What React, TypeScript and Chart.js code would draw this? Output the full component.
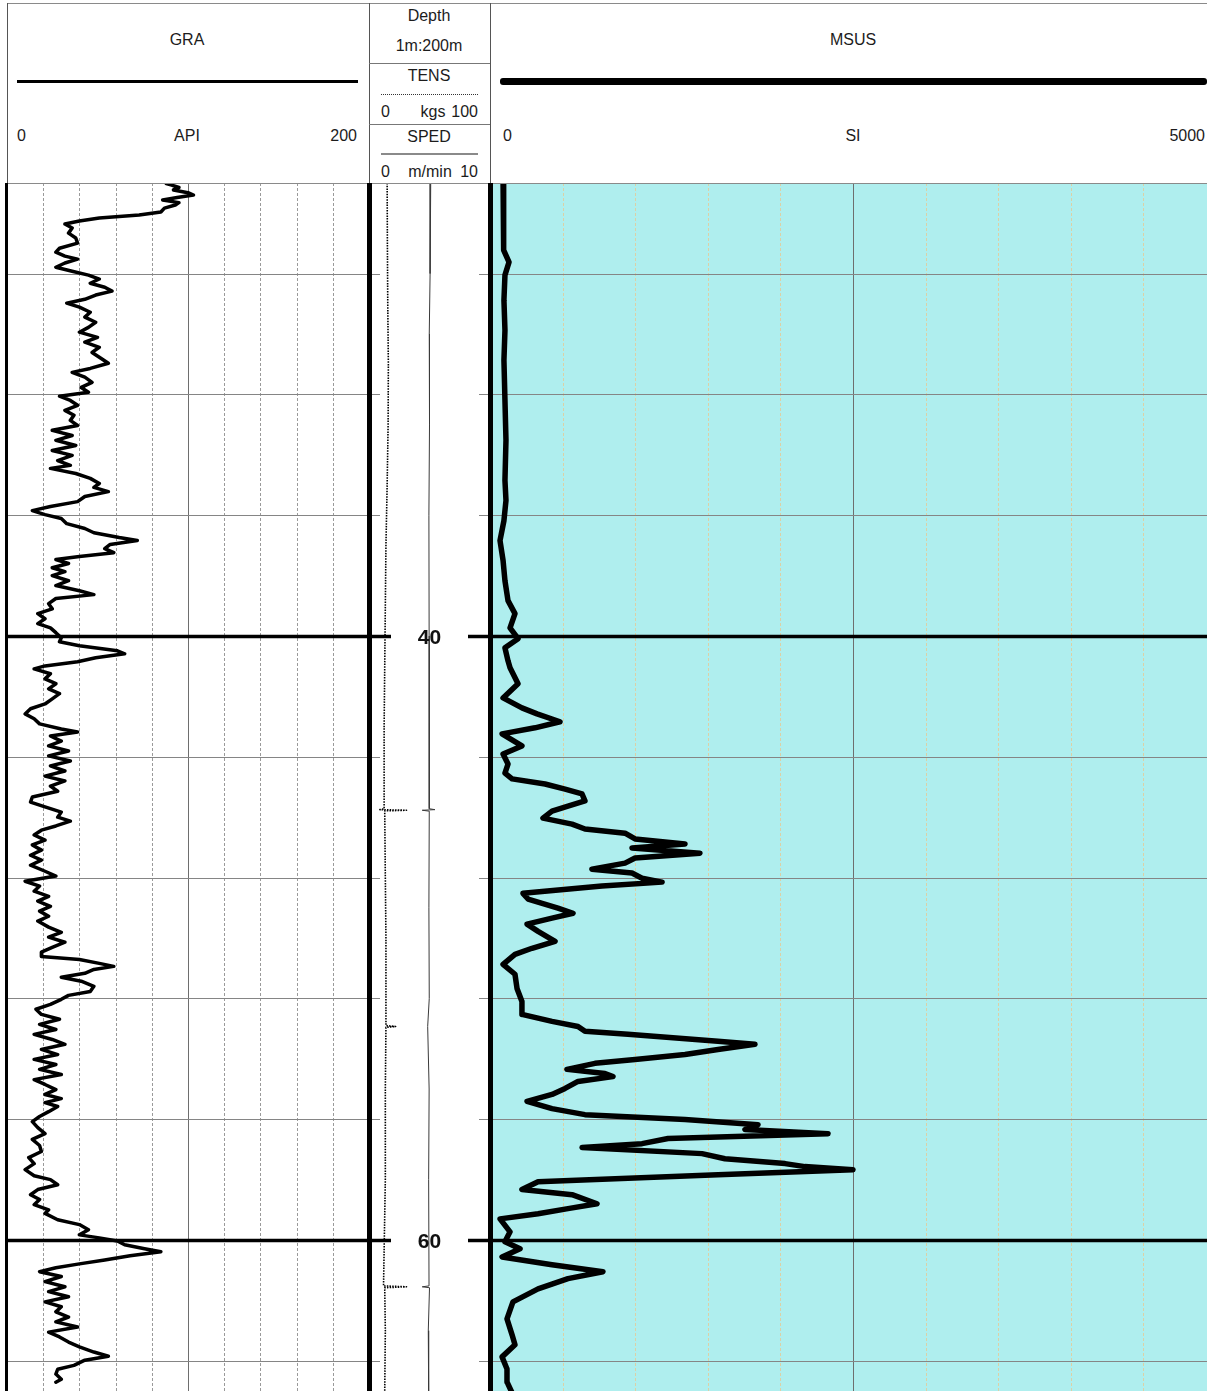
import React, { useEffect, useRef } from "react";
import { Chart, registerables } from "chart.js";

Chart.register(...registerables);

// ---------- data ----------
const DEPTH_MIN = 25;
const DEPTH_MAX = 65;
const gridDepths = [28, 32, 36, 40, 44, 48, 52, 56, 60, 64];
const majorDepths = [40, 60];
const depthLabels = ["40", "60"];
const graGrid = [20, 40, 60, 80, 100, 120, 140, 160, 180];
const msusGrid = [500, 1000, 1500, 2000, 2500, 3000, 3500, 4000, 4500];

// [depth m, GRA API]
const graReadings: [number, number][] = [
  [25.02, 88], [25.07, 91], [25.15, 95], [25.23, 92], [25.32, 100], [25.4, 103], [25.48, 94], [25.56, 86], [25.65, 95], [25.73, 93], [25.83, 87], [25.96, 85], [26.06, 73],
  [26.16, 51], [26.26, 40], [26.36, 32], [26.49, 36], [26.66, 34], [26.82, 38], [26.99, 39], [27.16, 29],
  [27.29, 27], [27.42, 32], [27.52, 39], [27.65, 32], [27.79, 27], [27.92, 36], [28.05, 45], [28.18, 51],
  [28.32, 46], [28.45, 54], [28.58, 58], [28.71, 49], [28.85, 43], [28.98, 33], [29.11, 40], [29.28, 46],
  [29.44, 43], [29.61, 49], [29.78, 45], [29.94, 40], [30.11, 50], [30.27, 43], [30.44, 51], [30.61, 47],
  [30.77, 51], [30.97, 56], [31.14, 46], [31.27, 36], [31.43, 43], [31.6, 47], [31.77, 41], [31.93, 45],
  [32.06, 29], [32.2, 35], [32.36, 39], [32.53, 32], [32.69, 37], [32.86, 35], [33.03, 39], [33.19, 25],
  [33.36, 36], [33.52, 27], [33.69, 38], [33.86, 25], [34.02, 36], [34.19, 28], [34.35, 35], [34.45, 24],
  [34.62, 38], [34.78, 46], [34.95, 51], [35.08, 48], [35.22, 56], [35.38, 43], [35.55, 39], [35.71, 24],
  [35.85, 14], [35.98, 21], [36.11, 30], [36.28, 33], [36.44, 43], [36.58, 48], [36.74, 62], [36.84, 72],
  [36.97, 57], [37.11, 54], [37.24, 59], [37.37, 40], [37.47, 27], [37.6, 34], [37.74, 25], [37.87, 32],
  [38.0, 25], [38.17, 34], [38.33, 27], [38.5, 40], [38.63, 48], [38.76, 27], [38.93, 23], [39.1, 25],
  [39.26, 17], [39.43, 21], [39.59, 17], [39.73, 24], [39.89, 27], [40.06, 30], [40.19, 29], [40.32, 40],
  [40.49, 61], [40.59, 65], [40.72, 49], [40.85, 39], [40.99, 21], [41.09, 15], [41.25, 24], [41.42, 21],
  [41.58, 27], [41.75, 23], [41.91, 29], [42.08, 25], [42.25, 21], [42.41, 13], [42.58, 10], [42.74, 15],
  [42.91, 18], [43.08, 30], [43.18, 39], [43.31, 24], [43.48, 30], [43.64, 23], [43.81, 34], [43.97, 23],
  [44.14, 35], [44.3, 24], [44.47, 32], [44.64, 21], [44.8, 32], [44.97, 24], [45.14, 28], [45.33, 14],
  [45.5, 13], [45.66, 21], [45.83, 30], [46.0, 28], [46.13, 35], [46.29, 27], [46.43, 19], [46.59, 15],
  [46.76, 21], [46.92, 14], [47.09, 19], [47.26, 13], [47.42, 19], [47.59, 13], [47.79, 21], [47.95, 27],
  [48.12, 10], [48.28, 18], [48.45, 15], [48.62, 23], [48.78, 17], [48.95, 24], [49.11, 18], [49.28, 23],
  [49.44, 17], [49.64, 23], [49.81, 30], [49.97, 23], [50.14, 32], [50.31, 25], [50.47, 19], [50.61, 19],
  [50.71, 40], [50.84, 51], [50.94, 59], [51.04, 48], [51.17, 43], [51.3, 30], [51.43, 41], [51.6, 48],
  [51.77, 46], [51.9, 34], [52.03, 30], [52.2, 24], [52.36, 16], [52.53, 19], [52.69, 29], [52.86, 18],
  [53.03, 27], [53.19, 15], [53.36, 25], [53.52, 32], [53.69, 19], [53.86, 28], [54.02, 15], [54.19, 27],
  [54.35, 18], [54.52, 30], [54.69, 15], [54.85, 21], [55.02, 27], [55.18, 21], [55.32, 30], [55.45, 21],
  [55.58, 28], [55.75, 23], [55.91, 18], [56.08, 14], [56.28, 17], [56.48, 21], [56.67, 14], [56.87, 18],
  [57.07, 19], [57.27, 12], [57.47, 15], [57.67, 10], [57.87, 15], [58.0, 24], [58.17, 28], [58.33, 17],
  [58.5, 13], [58.66, 18], [58.83, 15], [59.0, 23], [59.12, 21], [59.33, 28], [59.49, 40], [59.66, 45],
  [59.83, 40], [59.93, 51], [60.03, 61], [60.16, 65], [60.29, 76], [60.39, 85], [60.52, 68], [60.66, 54],
  [60.79, 40], [60.92, 27], [61.05, 18], [61.21, 30], [61.38, 21], [61.55, 32], [61.71, 23], [61.88, 34],
  [62.05, 21], [62.21, 30], [62.38, 27], [62.55, 34], [62.71, 27], [62.88, 39], [63.05, 23], [63.21, 29],
  [63.38, 34], [63.54, 40], [63.71, 48], [63.85, 56], [63.98, 43], [64.15, 37], [64.28, 28], [64.44, 27],
  [64.61, 30], [64.71, 27],
];

// [depth m, MSUS SI]
const msusReadings: [number, number][] = [
  [25.0, 90], [25.56, 96], [26.56, 90], [27.22, 96], [27.62, 131], [28.05, 103], [28.88, 96], [29.88, 103],
  [30.87, 96], [32.2, 103], [33.52, 110], [34.85, 103], [35.51, 110], [36.18, 96], [36.84, 69], [37.5, 90],
  [38.17, 103], [38.83, 124], [39.26, 172], [39.73, 138], [40.09, 193], [40.39, 103], [40.82, 124], [41.05, 138],
  [41.58, 193], [42.05, 90], [42.38, 220], [42.58, 324], [42.84, 482], [43.04, 310], [43.24, 83], [43.64, 220],
  [43.91, 90], [44.24, 124], [44.54, 103], [44.73, 152], [44.9, 379], [45.07, 517], [45.23, 634], [45.46, 654],
  [45.63, 537], [45.8, 427], [46.03, 365], [46.23, 565], [46.39, 654], [46.53, 930], [46.72, 999], [46.89, 1343],
  [47.02, 978], [47.19, 1446], [47.35, 999], [47.52, 930], [47.72, 702], [47.85, 978], [48.02, 1047], [48.15, 1185],
  [48.28, 771], [48.52, 227], [48.71, 262], [49.01, 468], [49.18, 572], [49.34, 427], [49.54, 255], [49.78, 331],
  [50.11, 448], [50.34, 289], [50.54, 172], [50.87, 90], [51.2, 172], [51.67, 186], [52.1, 220], [52.53, 220],
  [52.76, 427], [52.93, 606], [53.09, 654], [53.19, 950], [53.42, 1570], [53.52, 1825], [53.69, 1570], [53.86, 1343],
  [54.02, 999], [54.15, 723], [54.35, 530], [54.49, 792], [54.59, 847], [54.75, 606], [54.98, 517], [55.18, 427],
  [55.41, 255], [55.65, 427], [55.85, 654], [56.01, 1343], [56.18, 1846], [56.34, 1756], [56.48, 2328], [56.64, 1226],
  [56.81, 1047], [56.94, 634], [57.14, 1460], [57.31, 1618], [57.47, 2032], [57.57, 2169], [57.67, 2500], [57.84, 1570],
  [58.07, 331], [58.33, 220], [58.5, 565], [58.8, 737], [58.96, 537], [59.13, 331], [59.3, 69], [59.73, 138],
  [60.06, 103], [60.29, 207], [60.56, 83], [60.82, 427], [61.05, 778], [61.28, 537], [61.62, 331], [62.05, 158],
  [62.61, 117], [63.14, 152], [63.47, 172], [63.87, 83], [64.27, 117], [64.7, 117], [65.06, 152],
];

// [depth m, TENS kgs]
const tensReadings: [number, number][] = [
  [25, 15], [27, 15.2], [29, 15.5], [31, 16], [33, 15.8], [35, 15], [37, 14], [39, 13.5], [41, 13],
  [43, 12.5], [45.72, 12.5], [45.75, 9], [45.77, 31], [45.79, 13], [48, 13.5], [50, 14], [52.9, 14],
  [52.93, 22], [52.96, 14], [55, 13.5], [58, 13.5], [61.52, 12], [61.55, 31], [61.58, 13], [63, 13.5], [65, 13],
];

// [depth m, SPED m/min]
const spedReadings: [number, number][] = [
  [25, 5.1], [28, 5.05], [30, 4.98], [33, 5.0], [36, 4.95], [40, 4.97], [43, 5.0], [45.72, 4.96],
  [45.75, 5.45], [45.77, 4.4], [45.8, 4.98], [49, 4.95], [52, 4.98], [52.93, 4.85], [55, 4.97],
  [58, 4.93], [61.52, 4.96], [61.55, 4.4], [61.58, 5.0], [63, 4.9], [65, 4.93],
];

// ---------- layout ----------
const PLOT_TOP = 183;
const PLOT_H = 1208;
const FONT = '"Liberation Sans", Arial, sans-serif';

type GridOpts = {
  background?: string;
  vLines: number[];
  vMajor?: number;
  vMinorColor: string;
  depthTrack?: boolean;
};

function makeGridPlugin(o: GridOpts) {
  const line = (ctx: CanvasRenderingContext2D, x1: number, y1: number, x2: number, y2: number) => {
    ctx.beginPath();
    ctx.moveTo(x1, y1);
    ctx.lineTo(x2, y2);
    ctx.stroke();
  };
  return {
    id: "trackGrid",
    beforeDatasetsDraw(chart: any) {
      const { ctx, chartArea: a, scales } = chart;
      const x = scales.x;
      const y = scales.y;
      ctx.save();
      if (o.background) {
        ctx.fillStyle = o.background;
        ctx.fillRect(a.left, a.top, a.right - a.left, a.bottom - a.top);
      }
      for (const v of o.vLines) {
        const px = Math.round(x.getPixelForValue(v)) + 0.5;
        const major = v === o.vMajor;
        ctx.lineWidth = 1;
        ctx.strokeStyle = major ? "#6e6e6e" : o.vMinorColor;
        ctx.setLineDash(major ? [] : [3, 2]);
        line(ctx, px, a.top, px, a.bottom);
      }
      ctx.setLineDash([]);
      for (const d of gridDepths) {
        const major = majorDepths.includes(d);
        const py = major ? y.getPixelForValue(d) + 0.5 : Math.round(y.getPixelForValue(d)) + 0.5;
        ctx.strokeStyle = major ? "#000" : "#858585";
        ctx.lineWidth = major ? 3.5 : 1;
        if (o.depthTrack) {
          const len = major ? 22 : 11;
          line(ctx, a.left, py, a.left + len, py);
          line(ctx, a.right - len, py, a.right, py);
        } else {
          line(ctx, a.left, py, a.right, py);
        }
      }
      ctx.restore();
    },
    afterDatasetsDraw(chart: any) {
      if (!o.depthTrack) return;
      const { ctx, chartArea: a, scales } = chart;
      ctx.save();
      ctx.font = `bold 21px ${FONT}`;
      ctx.fillStyle = "#111";
      ctx.textAlign = "center";
      ctx.textBaseline = "middle";
      majorDepths.forEach((d, i) => {
        ctx.fillText(depthLabels[i], (a.left + a.right) / 2, scales.y.getPixelForValue(d) + 2);
      });
      ctx.restore();
    },
  };
}

const baseOptions = (xScales: any) => ({
  animation: false,
  responsive: false,
  maintainAspectRatio: false,
  devicePixelRatio: 1,
  events: [],
  layout: { padding: 0 },
  plugins: { legend: { display: false }, tooltip: { enabled: false } },
  scales: {
    ...xScales,
    y: { type: "linear", min: DEPTH_MIN, max: DEPTH_MAX, reverse: true, display: false },
  },
});

const curve = (pts: [number, number][], width: number, extra: any = {}) => ({
  data: pts.map(([d, v]) => ({ x: v, y: d })),
  showLine: true,
  borderColor: "#000",
  borderWidth: width,
  pointRadius: 0,
  tension: 0,
  borderJoinStyle: "round",
  borderCapStyle: "round",
  ...extra,
});

function graConfig(): any {
  return {
    type: "scatter",
    data: { datasets: [curve(graReadings, 3.5)] },
    options: baseOptions({ x: { type: "linear", min: 0, max: 200, display: false } }),
    plugins: [makeGridPlugin({ vLines: graGrid, vMajor: 100, vMinorColor: "#9a9a9a" })],
  };
}

function depthConfig(): any {
  return {
    type: "scatter",
    data: {
      datasets: [
        curve(tensReadings, 1.6, { borderDash: [1.5, 1.2], borderColor: "#000", borderCapStyle: "butt" }),
        curve(spedReadings, 1, { borderColor: "#3a3a3a", xAxisID: "x2" }),
      ],
    },
    options: baseOptions({
      x: { type: "linear", min: 0, max: 100, display: false },
      x2: { type: "linear", axis: "x", min: 0, max: 10, display: false },
    }),
    plugins: [makeGridPlugin({ vLines: [], vMinorColor: "#999", depthTrack: true })],
  };
}

function msusConfig(): any {
  return {
    type: "scatter",
    data: { datasets: [curve(msusReadings, 5.5)] },
    options: baseOptions({ x: { type: "linear", min: 0, max: 5000, display: false } }),
    plugins: [
      makeGridPlugin({
        background: "#AFEEEE",
        vLines: msusGrid,
        vMajor: 2500,
        vMinorColor: "rgba(222,205,160,0.95)",
      }),
    ],
  };
}

function TrackCanvas({ left, width, build }: { left: number; width: number; build: () => any }) {
  const ref = useRef<HTMLCanvasElement>(null);
  useEffect(() => {
    const chart = new Chart(ref.current as HTMLCanvasElement, build());
    return () => chart.destroy();
  }, []);
  return (
    <canvas
      ref={ref}
      width={width}
      height={PLOT_H}
      style={{ position: "absolute", left, top: PLOT_TOP, width, height: PLOT_H, display: "block" }}
    />
  );
}

function T({ x, y, align = "center", children }: { x: number; y: number; align?: string; children: React.ReactNode }) {
  const tx = align === "center" ? "-50%" : align === "right" ? "-100%" : "0";
  return (
    <div
      style={{
        position: "absolute",
        left: x,
        top: y,
        transform: `translate(${tx}, -50%)`,
        whiteSpace: "nowrap",
        fontFamily: FONT,
        fontSize: 16,
        lineHeight: "18px",
        color: "#1c1c1c",
      }}
    >
      {children}
    </div>
  );
}

function Box({ l, t, w, h, bg, style }: { l: number; t: number; w: number; h: number; bg?: string; style?: any }) {
  return <div style={{ position: "absolute", left: l, top: t, width: w, height: h, background: bg, ...style }} />;
}

export default function App() {
  return (
    <div
      style={{
        position: "absolute",
        left: 0,
        top: 0,
        width: 1207,
        height: 1391,
        overflow: "hidden",
        background: "#fff",
      }}
    >
      {/* tracks */}
      <TrackCanvas left={7} width={362} build={graConfig} />
      <TrackCanvas left={369} width={121} build={depthConfig} />
      <TrackCanvas left={490} width={726} build={msusConfig} />

      {/* header frame */}
      <Box l={7} t={3} w={1200} h={1} bg="#8a8a8a" />
      <Box l={7} t={183} w={1200} h={1} bg="#8a8a8a" />
      <Box l={7} t={3} w={1} h={180} bg="#555" />
      <Box l={369} t={3} w={1} h={180} bg="#555" />
      <Box l={490} t={3} w={1} h={180} bg="#555" />
      <Box l={369} t={63} w={121} h={1} bg="#777" />
      <Box l={369} t={124} w={121} h={1} bg="#777" />
      <Box l={381} t={94} w={97} h={0} style={{ borderTop: "1px dotted #333" }} />
      <Box l={381} t={153} w={97} h={2} bg="#8a8a8a" />

      {/* legend lines */}
      <Box l={17} t={80} w={341} h={3} bg="#000" />
      <Box l={500} t={78} w={707} h={7} bg="#000" style={{ borderRadius: 3 }} />

      {/* header texts */}
      <T x={187} y={40}>GRA</T>
      <T x={17} y={136} align="left">0</T>
      <T x={187} y={136}>API</T>
      <T x={357} y={136} align="right">200</T>

      <T x={429} y={16}>Depth</T>
      <T x={429} y={46}>1m:200m</T>
      <T x={429} y={76}>TENS</T>
      <T x={381} y={112} align="left">0</T>
      <T x={433} y={112}>kgs</T>
      <T x={478} y={112} align="right">100</T>
      <T x={429} y={137}>SPED</T>
      <T x={381} y={172} align="left">0</T>
      <T x={430} y={172}>m/min</T>
      <T x={478} y={172} align="right">10</T>

      <T x={853} y={40}>MSUS</T>
      <T x={503} y={136} align="left">0</T>
      <T x={853} y={136}>SI</T>
      <T x={1205} y={136} align="right">5000</T>

      {/* track borders */}
      <Box l={5} t={183} w={3} h={1208} bg="#000" />
      <Box l={367} t={183} w={5} h={1208} bg="#000" />
      <Box l={488} t={183} w={5} h={1208} bg="#000" />
    </div>
  );
}
